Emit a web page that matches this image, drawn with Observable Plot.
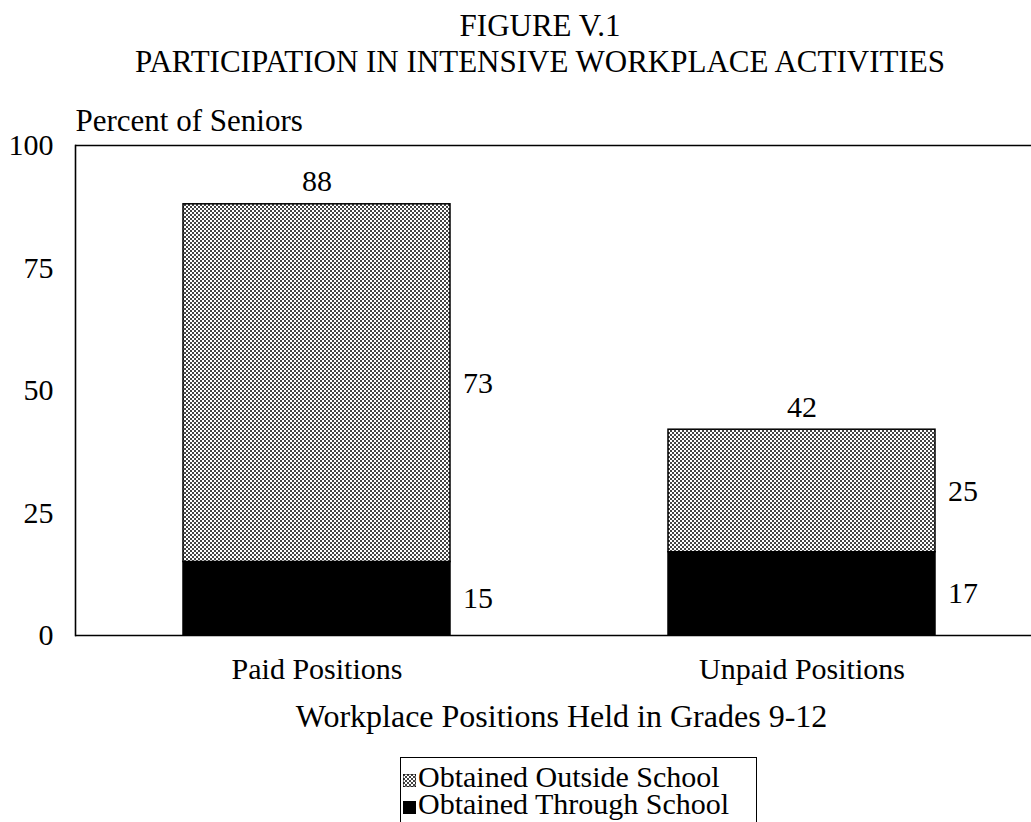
<!DOCTYPE html>
<html>
<head>
<meta charset="utf-8">
<script src="https://cdn.jsdelivr.net/npm/d3@7"></script>
<script src="https://cdn.jsdelivr.net/npm/@observablehq/plot@0.6"></script>
<style>
  html, body { margin: 0; padding: 0; background: #fff; }
  body { width: 1031px; height: 822px; position: relative; overflow: hidden; font-family: "Liberation Serif", "Times New Roman", serif; color: #000; }
  #title { position: absolute; left: 49px; width: 982px; top: 8px; text-align: center; font-size: 31px; line-height: 36px; }
  #chart { position: absolute; left: 0; top: 88px; }
  #legend { position: absolute; left: 400px; top: 757px; width: 357px; height: 80px; border: 1.5px solid #000; box-sizing: border-box; padding-top: 5px; font-size: 30px; line-height: 27px; }
  #legend .row { display: flex; align-items: baseline; white-space: nowrap; height: 27px; }
  #legend svg { flex: none; margin: 0 2px 0 2px; }
</style>
</head>
<body>
<div id="title">FIGURE V.1<br>PARTICIPATION IN INTENSIVE WORKPLACE ACTIVITIES</div>
<div id="chart"></div>
<div id="legend"></div>
<script>
const categories = ["Paid Positions", "Unpaid Positions"];
const series = ["Obtained Through School", "Obtained Outside School"];
const throughSchool = [15, 17];
const outsideSchool = [73, 25];
const totals = [88, 42];
const yTicks = [0, 25, 50, 75, 100];
const yLabel = "Percent of Seniors";
const xLabel = "Workplace Positions Held in Grades 9-12";

const rows = [];
categories.forEach((c, i) => {
  rows.push({category: c, series: series[0], value: throughSchool[i]});
  rows.push({category: c, series: series[1], value: outsideSchool[i]});
});
const totalRows = categories.map((c, i) => ({category: c, value: totals[i]}));

const W = 1031, H = 660, mL = 75, mT = 57, mB = 113;

const plot = Plot.plot({
  width: W,
  height: H,
  marginLeft: mL,
  marginRight: 0,
  marginTop: mT,
  marginBottom: mB,
  style: {fontFamily: "Liberation Serif, Times New Roman, serif", fontSize: "30px", color: "#000", background: "#fff", overflow: "visible"},
  x: {domain: categories, range: [75, 1042.25], paddingInner: 0.4503, paddingOuter: 0.2208, label: null},
  y: {domain: [0, 100], label: null},
  color: {domain: series, range: ["#000", "url(#dots)"]},
  marks: [
    Plot.barY(rows, Plot.stackY({x: "category", y: "value", fill: "series", stroke: "#000", strokeWidth: 1.5})),
    Plot.ruleY([0, 100], {stroke: "#000", strokeWidth: 1.6}),
    Plot.frame({anchor: "left", stroke: "#000", strokeWidth: 1.6}),
    Plot.axisY({ticks: yTicks, tickSize: 0, tickPadding: 22, tickFormat: d => String(d), fontSize: 30, label: null}),
    Plot.axisX({tickSize: 0, tickPadding: 22, fontSize: 30, label: null}),
    Plot.text(rows, Plot.stackY({x: "category", y: "value", text: d => String(d.value), textAnchor: "start", dx: 146, fontSize: 30})),
    Plot.text(totalRows, {x: "category", y: "value", text: d => String(d.value), lineAnchor: "bottom", dy: -13, fontSize: 30}),
    Plot.text([yLabel], {frameAnchor: "top-left", textAnchor: "start", lineAnchor: "bottom", dy: -15, fontSize: 31}),
    Plot.text([xLabel], {frameAnchor: "bottom", lineAnchor: "bottom", dy: 91, dx: 8, fontSize: 32})
  ]
});

function addPattern(svg, id) {
  const ns = "http://www.w3.org/2000/svg";
  const defs = document.createElementNS(ns, "defs");
  const pat = document.createElementNS(ns, "pattern");
  pat.setAttribute("id", id);
  pat.setAttribute("patternUnits", "userSpaceOnUse");
  pat.setAttribute("width", "4");
  pat.setAttribute("height", "4");
  const bg = document.createElementNS(ns, "rect");
  bg.setAttribute("width", "4"); bg.setAttribute("height", "4"); bg.setAttribute("fill", "#fff");
  pat.appendChild(bg);
  [[0, 0], [2, 2]].forEach(([x, y]) => {
    const r = document.createElementNS(ns, "rect");
    r.setAttribute("x", x); r.setAttribute("y", y);
    r.setAttribute("width", "2"); r.setAttribute("height", "2");
    r.setAttribute("fill", "#444");
    pat.appendChild(r);
  });
  defs.appendChild(pat);
  svg.insertBefore(defs, svg.firstChild);
}
addPattern(plot, "dots");
document.getElementById("chart").appendChild(plot);

// Legend (outside school first, as in the reference)
const legend = document.getElementById("legend");
[series[1], series[0]].forEach((s, k) => {
  const row = document.createElement("div");
  row.className = "row";
  const sw = document.createElementNS("http://www.w3.org/2000/svg", "svg");
  sw.setAttribute("width", "13"); sw.setAttribute("height", "13");
  if (k === 0) addPattern(sw, "dotsLegend");
  const r = document.createElementNS("http://www.w3.org/2000/svg", "rect");
  r.setAttribute("width", "13"); r.setAttribute("height", "13");
  r.setAttribute("fill", k === 0 ? "url(#dotsLegend)" : "#000");
  r.setAttribute("stroke", "#000"); r.setAttribute("stroke-width", "1");
  sw.appendChild(r);
  row.appendChild(sw);
  const t = document.createElement("span");
  t.textContent = s;
  row.appendChild(t);
  legend.appendChild(row);
});
</script>
</body>
</html>
